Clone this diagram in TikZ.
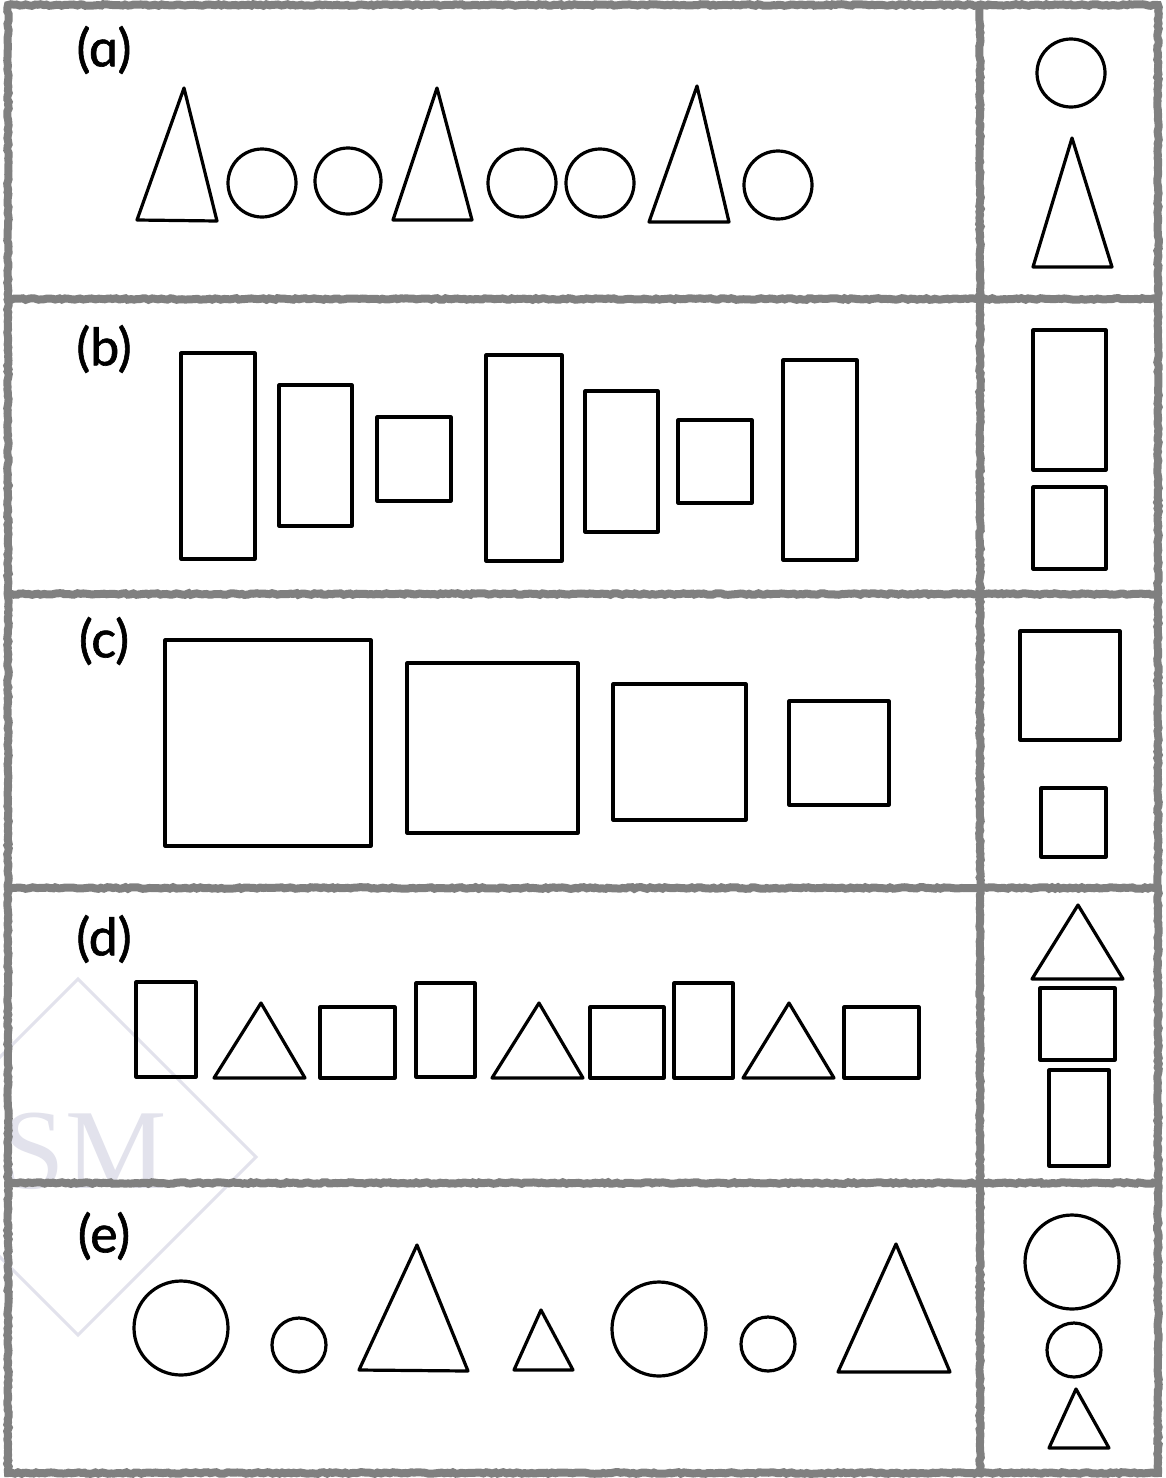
\documentclass[tikz,border=0pt]{standalone}
\usepackage{fontspec}
\newfontfamily\labfont[FakeBold=1.2]{Lato}
\newfontfamily\wmfont{Liberation Serif}
\usetikzlibrary{decorations.pathmorphing}
\definecolor{chalk}{RGB}{128,128,128}
\definecolor{wm}{RGB}{226,226,236}
\tikzset{
  chalkline/.style={draw=chalk,line width=8pt,line cap=round,decorate,decoration={random steps,segment length=3pt,amplitude=0.8pt}},
  shp/.style={draw=black,line width=3.2pt,line join=round},
  lbl/.style={font=\labfont\fontsize{52}{56}\selectfont,inner sep=0pt},
}
\begin{document}
\begin{tikzpicture}[x=1pt,y=-1pt]
\useasboundingbox (0,0) rectangle (1165,1478);
\fill[white] (0,0) rectangle (1165,1478);
% watermark
\begin{scope}
\clip (0,0) rectangle (1165,1478);
\draw[wm,line width=3pt] (78,979) -- (256,1157) -- (78,1335) -- (-100,1157) -- cycle;
\node[wm,font=\wmfont\fontsize{114}{114}\selectfont,anchor=base,inner sep=0pt] (wmtext) at (84,1188) {SM};
\end{scope}
% chalk frame
\draw[chalkline] (8,5) -- (1158,5) -- (1158,1473) -- (8,1473) -- cycle;
\draw[chalkline] (980,5) -- (980,1473);
\draw[chalkline] (8,299) -- (1158,299);
\draw[chalkline] (8,594) -- (1158,594);
\draw[chalkline] (8,888) -- (1158,888);
\draw[chalkline] (8,1183) -- (1158,1183);
% labels
\node[lbl] (la) at (104,50) {(ɑ)};
\node[lbl] (lb) at (104,349) {(b)};
\node[lbl] (lc) at (104,641) {(c)};
\node[lbl] (ld) at (104,939) {(d)};
\node[lbl] (le) at (104,1236) {(e)};
% (a)
\draw[shp] (184,88) -- (217,221) -- (137,220) -- cycle;
\draw[shp] (262,183) circle (34);
\draw[shp] (348,181) circle (33);
\draw[shp] (437,88) -- (472,220) -- (393,220) -- cycle;
\draw[shp] (522,183) circle (34);
\draw[shp] (600,183) circle (34);
\draw[shp] (697,86) -- (729,222) -- (649,222) -- cycle;
\draw[shp] (778,185) circle (34);
\draw[shp] (1071,73) circle (34);
\draw[shp] (1072,138) -- (1112,267) -- (1033,267) -- cycle;
% (b)
\draw[shp] (181,353) rectangle (255,559);
\draw[shp] (279,385) rectangle (352,526);
\draw[shp] (377,417) rectangle (451,501);
\draw[shp] (486,355) rectangle (562,561);
\draw[shp] (585,391) rectangle (658,532);
\draw[shp] (678,420) rectangle (752,503);
\draw[shp] (783,360) rectangle (857,560);
\draw[shp] (1033,330) rectangle (1106,470);
\draw[shp] (1033,487) rectangle (1106,569);
% (c)
\draw[shp] (165,640) rectangle (371,846);
\draw[shp] (407,663) rectangle (578,833);
\draw[shp] (613,684) rectangle (746,820);
\draw[shp] (789,701) rectangle (889,805);
\draw[shp] (1020,631) rectangle (1120,740);
\draw[shp] (1041,788) rectangle (1106,857);
% (d)
\draw[shp] (136,982) rectangle (196,1077);
\draw[shp] (261,1003) -- (305,1078) -- (214,1078) -- cycle;
\draw[shp] (320,1007) rectangle (395,1078);
\draw[shp] (416,983) rectangle (475,1077);
\draw[shp] (539,1003) -- (583,1078) -- (492,1078) -- cycle;
\draw[shp] (590,1007) rectangle (664,1078);
\draw[shp] (674,983) rectangle (733,1078);
\draw[shp] (789,1003) -- (834,1078) -- (743,1078) -- cycle;
\draw[shp] (844,1007) rectangle (919,1078);
\draw[shp] (1078,905) -- (1123,979) -- (1032,979) -- cycle;
\draw[shp] (1040,988) rectangle (1115,1060);
\draw[shp] (1049,1070) rectangle (1109,1166);
% (e)
\draw[shp] (181,1328) circle (47);
\draw[shp] (299,1345) circle (27);
\draw[shp] (417,1245) -- (468,1371) -- (359,1370) -- cycle;
\draw[shp] (541,1310) -- (573,1370) -- (514,1370) -- cycle;
\draw[shp] (659,1329) circle (47);
\draw[shp] (768,1344) circle (27);
\draw[shp] (896,1244) -- (950,1372) -- (838,1372) -- cycle;
\draw[shp] (1072,1262) circle (47);
\draw[shp] (1074,1350) circle (27);
\draw[shp] (1076,1389) -- (1109,1448) -- (1049,1448) -- cycle;
\end{tikzpicture}
\end{document}
